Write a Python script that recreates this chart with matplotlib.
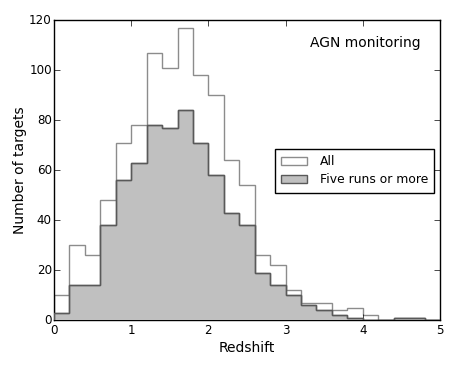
import numpy as np
import matplotlib
matplotlib.use("Agg")
import matplotlib.pyplot as plt
from matplotlib.patches import Patch

plt.style.use("classic")

bin_edges = [round(0.2 * i, 1) for i in range(26)]
all_counts = [10, 30, 26, 48, 71, 78, 107, 101, 117, 98, 90, 64, 54,
              26, 22, 12, 7, 7, 4, 5, 2, 0, 1, 1, 0]
five_counts = [3, 14, 14, 38, 56, 63, 78, 77, 84, 71, 58, 43, 38,
               19, 14, 10, 6, 4, 2, 1, 0, 0, 1, 1, 0]

fig = plt.figure(figsize=(4.58, 3.66), dpi=100)
fig.patch.set_facecolor("white")
ax = fig.add_axes([54 / 458, 46 / 366, 386 / 458, 300 / 366])

ax.stairs(all_counts, bin_edges, color="0.55", linewidth=1.0, zorder=2)
ax.stairs(five_counts, bin_edges, fill=True, facecolor="#c0c0c0",
          edgecolor="0.35", linewidth=1.0, zorder=3)
ax.stairs(five_counts, bin_edges, color="0.35", linewidth=1.0, zorder=4)

ax.set_xlim(0, 5)
ax.set_ylim(0, 120)
ax.set_xticks([0, 1, 2, 3, 4, 5])
ax.set_yticks([0, 20, 40, 60, 80, 100, 120])
ax.tick_params(labelsize=8.6, direction="in", length=4)
ax.tick_params(axis="x", pad=3)
ax.tick_params(axis="y", pad=1.5)
ax.set_xlabel("Redshift", fontsize=10, labelpad=3)
ax.set_ylabel("Number of targets", fontsize=10, labelpad=1.5)

ax.text(0.95, 0.924, "AGN monitoring", transform=ax.transAxes,
        ha="right", va="center", fontsize=10)

handles = [Patch(facecolor="white", edgecolor="0.55", label="All"),
           Patch(facecolor="#c0c0c0", edgecolor="0.35", label="Five runs or more")]
ax.legend(handles=handles, loc="center right", bbox_to_anchor=(0.985, 0.497),
          fontsize=8.9, frameon=True, fancybox=False, borderpad=0.5,
          handlelength=2.1, handletextpad=1.0, labelspacing=0.4,
          borderaxespad=0.0)

fig.savefig("out.png", dpi=100, facecolor="white")
